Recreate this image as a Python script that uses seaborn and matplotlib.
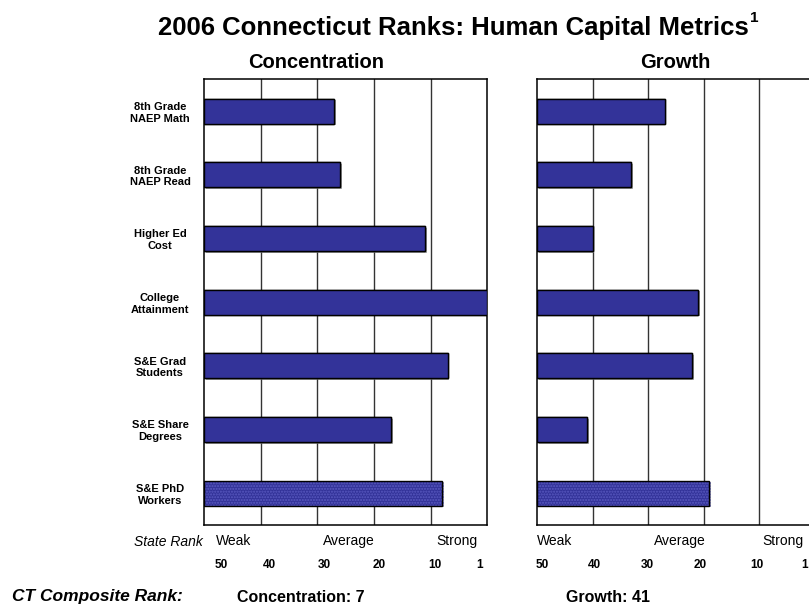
import matplotlib
matplotlib.use("Agg")
import matplotlib.pyplot as plt
import matplotlib.patheffects as pe
from matplotlib.patches import Rectangle
import seaborn as sns
import pandas as pd

# ---- data -------------------------------------------------------------
metrics = [
    "8th Grade\nNAEP Math",
    "8th Grade\nNAEP Read",
    "Higher Ed\nCost",
    "College\nAttainment",
    "S&E Grad\nStudents",
    "S&E Share\nDegrees",
    "S&E PhD\nWorkers",
]
concentration_rank = [28, 27, 12, 1, 8, 18, 9]
growth_rank = [28, 34, 41, 22, 23, 42, 20]
rank_ticks = [50, 40, 30, 20, 10, 1]
strength_words = ["Weak", "Average", "Strong"]
composite_concentration = 7
composite_growth = 41
N_STATES = 50

# ---- style ------------------------------------------------------------
sns.set_style("white")
plt.rcParams["font.family"] = ["Liberation Sans", "DejaVu Sans"]
plt.rcParams["text.color"] = "black"
plt.rcParams["xtick.color"] = "black"
plt.rcParams["ytick.color"] = "black"
plt.rcParams["axes.labelcolor"] = "black"

BAR = "#333399"
W, H = 809, 607

fig = plt.figure(figsize=(W / 100, H / 100), dpi=100)


def box(l, t, r, b):
    return [l / W, 1 - b / H, (r - l) / W, (b - t) / H]


ax1 = fig.add_axes(box(204, 79.3, 487.3, 525))
ax2 = fig.add_axes(box(537.3, 79.3, 814.3, 525))

# label positions along the score axis (score = strength, 0 = weakest)
tick_pos = {
    ax1: [3.1, 11.6, 21.2, 30.9, 40.8, 48.6],
    ax2: [0.9, 10.4, 19.8, 29.4, 39.6, 48.3],
}
word_pos = {
    ax1: [5.3, 25.6, 44.6],
    ax2: [3.1, 25.8, 44.4],
}
title_pos = {ax1: 0.395, ax2: 0.497}


def panel(ax, ranks, title, show_labels):
    df = pd.DataFrame({"metric": metrics, "score": [N_STATES + 1 - r for r in ranks]})
    sns.barplot(
        data=df, x="score", y="metric", orient="h", color=BAR, saturation=1,
        width=0.39, edgecolor="black", linewidth=1.0, ax=ax, zorder=3,
    )
    ax.set_xlim(0, N_STATES)
    ax.set_ylim(len(metrics) - 0.5, -0.5)
    ax.set_xlabel("")
    ax.set_ylabel("")

    # drop shadows on bars
    for p in ax.patches:
        p.set_path_effects([pe.withSimplePatchShadow(offset=(1.2, -1.2),
                                                      shadow_rgbFace="#888888",
                                                      alpha=0.7), pe.Normal()])

    # stippled last bar
    last = ax.patches[len(metrics) - 1]
    last.set_hatch("......")
    last.set_edgecolor("#5a5ac0")
    last.set_linewidth(0)
    ax.add_patch(Rectangle((last.get_x(), last.get_y()), last.get_width(), last.get_height(),
                           facecolor="none", edgecolor="black", linewidth=1.0, zorder=4))

    # vertical grid
    ax.set_xticks([10, 20, 30, 40], minor=True)
    ax.grid(which="minor", axis="x", color="#333333", linewidth=1.0)
    ax.grid(which="major", visible=False)
    ax.set_axisbelow(True)

    ax.set_xticks(tick_pos[ax], [str(t) for t in rank_ticks])
    ax.tick_params(axis="x", which="both", length=0, pad=24.5)
    for lab in ax.get_xticklabels():
        lab.set_fontsize(8.5)
        lab.set_fontweight("bold")
        lab.set_ha("center")

    if show_labels:
        ax.tick_params(axis="y", length=0, pad=31.7)
        for lab in ax.get_yticklabels():
            lab.set_fontsize(8)
            lab.set_fontweight("bold")
            lab.set_ha("center")
            lab.set_multialignment("center")
            lab.set_linespacing(1.2)
    else:
        ax.set_yticks([])

    for s in ax.spines.values():
        s.set_visible(True)
        s.set_color("black")
        s.set_linewidth(1.1)

    tr = ax.get_xaxis_transform()
    for word, x in zip(strength_words, word_pos[ax]):
        ax.text(x, -0.037, word, transform=tr, ha="center", va="center", fontsize=10)

    ax.set_title(title, fontsize=14.5, fontweight="bold", pad=8, x=title_pos[ax])


panel(ax1, concentration_rank, "Concentration", True)
panel(ax2, growth_rank, "Growth", False)


def px(x, y):
    return x / W, 1 - y / H


# headline with a footnote marker
renderer = fig.canvas.get_renderer()
t = fig.text(*px(453, 28), "2006 Connecticut Ranks: Human Capital Metrics",
             ha="center", va="center", fontsize=18.5, fontweight="bold")
bb = t.get_window_extent(renderer)
fig.text(bb.x1 / W + 1.5 / W, bb.y1 / H - 2 / H, "1", ha="left", va="center",
         fontsize=11, fontweight="bold")

fig.text(*px(168, 541.5), "State Rank", ha="center", va="center", fontsize=10, style="italic")

fig.text(*px(12, 597), "CT Composite Rank:", ha="left", va="center",
         fontsize=12.5, fontweight="bold", style="italic")
fig.text(*px(237, 597), f"Concentration: {composite_concentration}", ha="left", va="center",
         fontsize=11.5, fontweight="bold")
fig.text(*px(566, 597), f"Growth: {composite_growth}", ha="left", va="center",
         fontsize=11.5, fontweight="bold")

fig.savefig("out.png", dpi=100)
